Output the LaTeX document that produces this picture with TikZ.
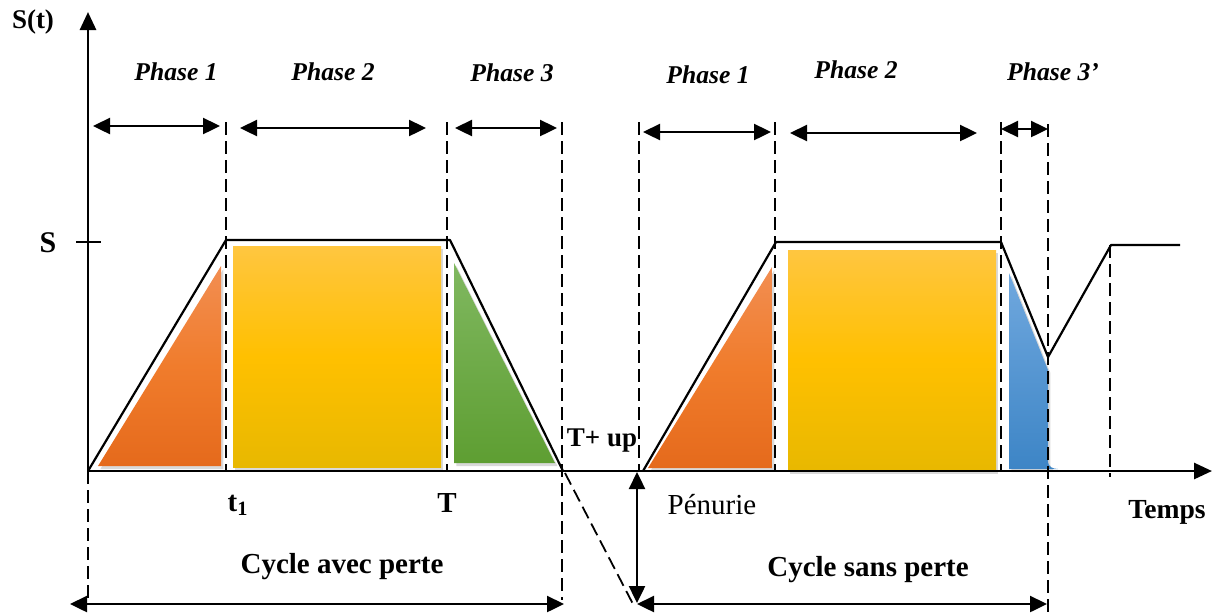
\documentclass[tikz,border=0pt]{standalone}
\usepackage{fontspec}
\setmainfont{Liberation Serif}
\usetikzlibrary{arrows.meta,shadows}
\definecolor{orTop}{RGB}{242,142,82}
\definecolor{orMid}{RGB}{240,124,44}
\definecolor{orBot}{RGB}{229,106,28}
\definecolor{yeTop}{RGB}{255,198,64}
\definecolor{yeMid}{RGB}{255,192,0}
\definecolor{yeBot}{RGB}{232,184,0}
\definecolor{grTop}{RGB}{128,184,96}
\definecolor{grBot}{RGB}{94,158,50}
\definecolor{blTop}{RGB}{112,168,222}
\definecolor{blBot}{RGB}{61,133,198}
\begin{document}
\begin{tikzpicture}[x=0.5pt,y=-0.5pt,
  axis/.style={line width=1.4pt,-{Triangle[length=9pt,width=8pt]}},
  span/.style={line width=1.2pt,{Triangle[length=8.5pt,width=8pt]}-{Triangle[length=8.5pt,width=8pt]}},
  guide/.style={line width=0.9pt,dash pattern=on 6.5pt off 3pt},
  stock/.style={line width=1.1pt,line join=round},
  phase/.style={font=\fontsize{12.8}{14}\selectfont\bfseries\itshape},
  lbl/.style={font=\fontsize{13.5}{15}\selectfont\bfseries},
  big/.style={font=\fontsize{14.5}{16}\selectfont\bfseries},
  soft/.style={drop shadow={shadow xshift=1.2pt,shadow yshift=-1.5pt,opacity=0.3}},
  orangefill/.style={soft,top color=orTop,bottom color=orBot,middle color=orMid},
  yellowfill/.style={soft,top color=yeTop,bottom color=yeBot,middle color=yeMid},
  greenfill/.style={soft,top color=grTop,bottom color=grBot},
  bluefill/.style={soft,top color=blTop,bottom color=blBot}]
\useasboundingbox (0,0) rectangle (1224,612);

% coloured areas, first cycle
\path[orangefill] (98,466) -- (221,266) -- (221,466) -- cycle;
\path[yellowfill] (233,246) rectangle (441,467);
\path[greenfill] (454,263) -- (555,463) -- (454,463) -- cycle;
% coloured areas, second cycle
\path[orangefill] (648,468) -- (772,267) -- (772,468) -- cycle;
\path[yellowfill] (788,250) rectangle (996,471);
\path[bluefill] (1009,273) -- (1048,370) -- (1048,462) to[out=-90,in=180] (1058,469) -- (1009,469) -- cycle;

% axes
\coordinate (O) at (88,471);
\coordinate (ytop) at (88,12);
\coordinate (xend) at (1212,471);
\draw[axis] (O) -- (ytop);
\draw[axis] (O) -- (xend);
\coordinate (tickL) at (76,242);
\coordinate (tickR) at (101,242);
\draw[line width=1pt] (tickL) -- (tickR);

% stock level
\coordinate (a0) at (88,471);
\coordinate (a1) at (226,240);
\coordinate (a2) at (450,240);
\coordinate (a3) at (563,471);
\draw[stock] (a0) -- (a1) -- (a2) -- (a3);
\coordinate (b0) at (643,471);
\coordinate (b1) at (776,242);
\coordinate (b2) at (1001,242);
\coordinate (b3) at (1048,357);
\coordinate (b4) at (1111,245);
\coordinate (b5) at (1180,245);
\draw[stock] (b0) -- (b1) -- (b2) -- (b3) -- (b4) -- (b5);

% dashed guides
\coordinate (g1t) at (226,122); \coordinate (g1b) at (226,471);
\coordinate (g2t) at (447,122); \coordinate (g2b) at (447,471);
\coordinate (g3t) at (562,122); \coordinate (g3b) at (562,600);
\coordinate (g0t) at (88,471);  \coordinate (g0b) at (88,600);
\coordinate (h1t) at (639,122); \coordinate (h1b) at (639,471);
\coordinate (h2t) at (775,122); \coordinate (h2b) at (775,471);
\coordinate (h3t) at (1001,122); \coordinate (h3b) at (1001,471);
\coordinate (h4t) at (1048,124); \coordinate (h4b) at (1048,612);
\coordinate (h5t) at (1110,245); \coordinate (h5b) at (1110,477);
\coordinate (d0) at (565,473); \coordinate (d1) at (634,606);
\foreach \p in {g1,g2,g3,g0,h1,h2,h3,h4,h5}
  \draw[guide] (\p t) -- (\p b);
\draw[guide] (d0) -- (d1);

% phase spans
\coordinate (s1l) at (93,126);  \coordinate (s1r) at (220,126);
\coordinate (s2l) at (240,128); \coordinate (s2r) at (426,128);
\coordinate (s3l) at (455,128); \coordinate (s3r) at (557,128);
\coordinate (r1l) at (643,132); \coordinate (r1r) at (771,132);
\coordinate (r2l) at (790,133); \coordinate (r2r) at (977,133);
\coordinate (r3l) at (1001,129); \coordinate (r3r) at (1048,129);
\foreach \p in {s1,s2,s3,r1,r2,r3}
  \draw[span] (\p l) -- (\p r);

% cycle spans and shortage
\coordinate (c1l) at (70,604);  \coordinate (c1r) at (564,604);
\coordinate (c2l) at (637,604); \coordinate (c2r) at (1047,604);
\coordinate (pt) at (637,472);  \coordinate (pb) at (637,603);
\draw[span] (c1l) -- (c1r);
\draw[span] (c2l) -- (c2r);
\draw[span] (pt) -- (pb);

% labels
\node[lbl] (st) at (33,22) {S(t)};
\node[font=\fontsize{15}{16}\selectfont\bfseries] (slab) at (48,243) {S};
\node[phase] (ph1a) at (176,72) {Phase 1};
\node[phase] (ph2a) at (333,72) {Phase 2};
\node[phase] (ph3a) at (512,73) {Phase 3};
\node[phase] (ph1b) at (708,75) {Phase 1};
\node[phase] (ph2b) at (856,70) {Phase 2};
\node[phase] (ph3b) at (1053,72) {Phase 3’};
\node[lbl] (tup) at (602,441) {T+ up};
\node[font=\fontsize{14.5}{16}\selectfont\bfseries] (t1) at (238,505) {t\textsubscript{1}};
\node[font=\fontsize{14.5}{16}\selectfont\bfseries] (tT) at (447,503) {T};
\node[big] (cav) at (342,567) {Cycle avec perte};
\node[font=\fontsize{14.5}{16}\selectfont] (pen) at (712,505) {Pénurie};
\node[big] (csp) at (868,570) {Cycle sans perte};
\node[font=\fontsize{13.8}{16}\selectfont\bfseries] (tmp) at (1167,512) {Temps};
\end{tikzpicture}
\end{document}
